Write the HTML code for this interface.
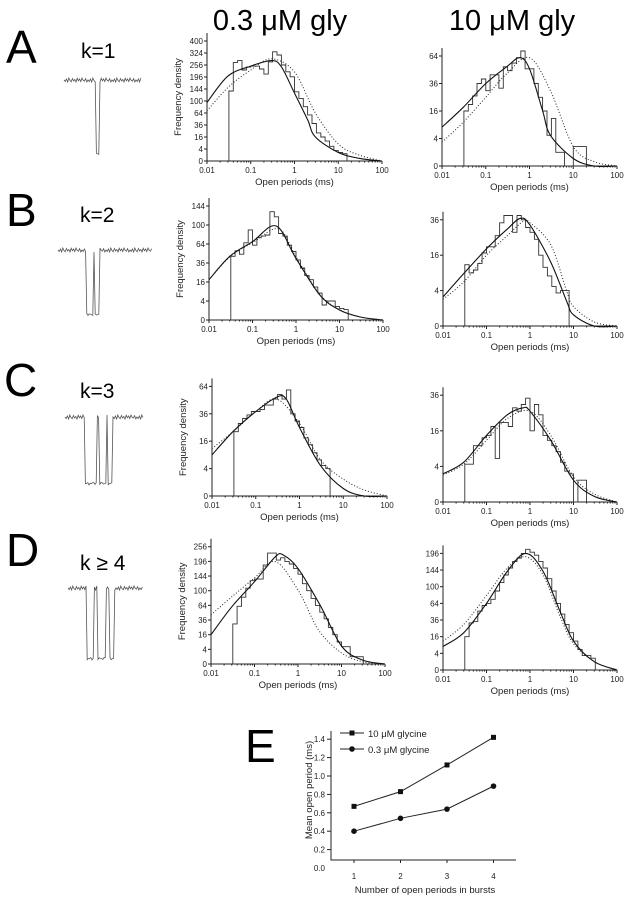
<!DOCTYPE html>
<html><head><meta charset="utf-8"><style>
body{margin:0;background:#fff}
svg{display:block;font-family:"Liberation Sans",sans-serif}
</style></head><body>
<svg id="fig" width="631" height="899" viewBox="0 0 631 899">
<text x="280" y="30" font-size="29" text-anchor="middle">0.3 μM gly</text>
<text x="512" y="30" font-size="29" text-anchor="middle">10 μM gly</text>
<text x="6" y="63" font-size="46">A</text>
<text x="6" y="226" font-size="46">B</text>
<text x="4" y="396" font-size="46">C</text>
<text x="6" y="566" font-size="46">D</text>
<text x="245" y="762" font-size="46">E</text>
<text x="81" y="58" font-size="21">k=1</text>
<text x="80" y="222" font-size="21">k=2</text>
<text x="80" y="398" font-size="21">k=3</text>
<text x="80" y="570" font-size="21">k ≥ 4</text>
<g id="plots"></g>
</svg>
<script>
// ---- histogram data (density values, bins 0.1 decade starting at 0.0316 ms) ----
const ticksA1=[0,4,16,36,64,100,144,196,256,324,400];
const histA1=[136,270,280,230,245,250,250,235,210,273,331,312,256,221,197,133,109,82,59,39,22,16,11,6,3,2,1.5];
const fitA1x=[0.01,0.03,0.1,0.3,0.5,1,2,3,10,30,100];
const fitA1=[95,200,250,280,247,128,47,16,2,0.2,0];
const dotA1x=[0.01,0.03,0.1,0.3,1,3,10,30,100];
const dotA1=[70,150,230,290,220,64,8,1,0];
const ticksA2=[0,4,16,36,64];
const histA2=[16,20,26,36,40,30,44,44,32,52,48,56,62,70,50,50,36,25,16,5,12,1,1,0,0,2,2,2];
const fitA2x=[0.01,0.03,0.1,0.3,0.6,1,2,3,10,30,100];
const fitA2=[8,18,36,52,62,50,16,5,0.3,0,0];
const dotA2x=[0.01,0.03,0.1,0.3,1,3,10,30,100];
const dotA2=[3,10,25,45,62,30,2,0.1,0];
const ticksB1=[0,4,16,36,64,100,144];
const histB1=[45,53,48,66,90,62,75,78,80,130,118,83,78,62,52,40,30,22,18,12,8,2.5,4,4,2,1.5,1.2];
const fitB1x=[0.01,0.03,0.1,0.35,1,3.5,10,30,100];
const fitB1=[18,45,68,98,42,7,1.1,0.1,0];
const dotB1x=[0.01,0.03,0.1,0.4,1,3.5,10,30,100];
const dotB1=[18,44,66,92,44,7.5,1.2,0.1,0];
const ticksB2=[0,4,16,36];
const histB2=[12,9,10,12.5,17,20,20,26,34,39,39,28,39,36,31,28,24,16,11,8,5,3.5,4,4];
const fitB2x=[0.01,0.03,0.1,0.3,0.6,1,3,7,10,30,100];
const fitB2=[2.7,8.8,19,30,37,32.5,13,1.9,0.4,0,0];
const dotB2x=[0.01,0.03,0.1,0.3,0.7,1,3,7,10,30,100];
const dotB2=[2.3,6.2,16,26,35,34,21,3.8,1.2,0.05,0];
const ticksC1=[0,4,16,36,64];
const histC1=[22,28,32,35,38,38,40,44,44,50,55,50,60,36,30,25,18,14,10,7,5,4];
const fitC1x=[0.01,0.03,0.1,0.3,0.5,1,3,10,30,100];
const fitC1=[9,22,38,52,50,25,5,0.3,0,0];
const dotC1x=[0.01,0.03,0.1,0.3,1,3,10,30,100];
const dotC1=[12,22,38,50,28,7,1.5,0.2,0];
const ticksC2=[0,4,16,36];
const histC2=[4.5,4.5,10,10,13,14,18,6,20,20,18,28,26,30,34,16,30,24,14,12,10,8,5,3,2.5,0,1.5,1.5];
const fitC2x=[0.01,0.03,0.1,0.3,0.7,1,3,10,30,100];
const fitC2=[2.5,5,14,24,28,26,12,1.5,0.1,0];
const dotC2x=[0.01,0.03,0.1,0.3,1,3,10,30,100];
const dotC2=[2.3,4.5,12,22,26,14,2,0.2,0];
const ticksD1=[0,4,16,36,64,100,144,196,256];
const histD1=[30,62,83,107,129,134,134,182,229,229,201,210,195,186,170,150,120,100,80,64,50,38,25,16,9,5.6,5.6,1,1,1];
const fitD1x=[0.01,0.03,0.1,0.3,0.46,1,3.2,10,30,100];
const fitD1=[16,61,126,214,221,170,65,6,0.3,0];
const dotD1x=[0.01,0.03,0.1,0.3,1,3,10,30,100];
const dotD1=[45,84,138,195,102,21,2.3,0.1,0];
const ticksD2=[0,4,16,36,64,100,144,196];
const histD2=[16,32,34,50,60,64,72,90,110,130,150,170,180,196,210,200,190,170,150,120,90,64,45,30,20,12,6,3,3,2];
const fitD2x=[0.01,0.03,0.1,0.3,0.8,2,5,10,30,100];
const fitD2=[8,20,64,140,196,140,48,12,1,0];
const dotD2=[12,30,80,150,185,130,40,10,1,0];
const xTickLabels=["0.01","0.1","1","10","100"];
// ---- panel E data ----
const eCats=[1,2,3,4];
const eHigh=[0.67,0.83,1.12,1.42];
const eLow=[0.40,0.54,0.64,0.89];
const eTicks=["0.0","0.2","0.4","0.6","0.8","1.0","1.2","1.4"];

const NS="http://www.w3.org/2000/svg";
const root=document.getElementById('plots');
function mk(tag,attrs,parent){const e=document.createElementNS(NS,tag);for(const k in attrs)e.setAttribute(k,attrs[k]);(parent||root).appendChild(e);return e;}

function smooth(pts){let d="M"+pts[0][0]+","+pts[0][1];
  for(let i=0;i<pts.length-1;i++){const p0=pts[Math.max(0,i-1)],p1=pts[i],p2=pts[i+1],p3=pts[Math.min(pts.length-1,i+2)];
    const c1=[p1[0]+(p2[0]-p0[0])/6,p1[1]+(p2[1]-p0[1])/6],c2=[p2[0]-(p3[0]-p1[0])/6,p2[1]-(p3[1]-p1[1])/6];
    d+=" C"+c1[0].toFixed(1)+","+c1[1].toFixed(1)+" "+c2[0].toFixed(1)+","+c2[1].toFixed(1)+" "+p2[0].toFixed(1)+","+p2[1].toFixed(1);}
  return d;}

function panel(name,x0,x1,y0,unit,ticks,hist,fx,fit,dx,dot,showYTitle){
  const g=mk('g',{});
  
  
  const X=v=>x0+(Math.log10(v)+2)/4*(x1-x0);
  const Y=v=>y0-Math.sqrt(Math.max(0,v))*unit;
  const top=Y(ticks[ticks.length-1])-8;
  const ax=mk('path',{d:`M${x0},${top} L${x0},${y0} L${x1},${y0}`,stroke:'#222','stroke-width':1,fill:'none'},g);
  
  
  ticks.forEach(t=>{const y=Y(t);mk('line',{x1:x0-3,x2:x0,y1:y,y2:y,stroke:'#222'},g);
    const tx=mk('text',{x:x0-4,y:y+3,'font-size':8,'text-anchor':'end',fill:'#222'},g);tx.textContent=t;
    
    });
  for(let dcd=-2;dcd<2;dcd++)for(let m=1;m<10;m++){const x=X(m*Math.pow(10,dcd));mk('line',{x1:x,x2:x,y1:y0,y2:y0+(m==1?3:1.5),stroke:'#222'},g);}
  mk('line',{x1:x1,x2:x1,y1:y0,y2:y0+3,stroke:'#222'},g);
  xTickLabels.forEach((l,i)=>{const tx=mk('text',{x:x0+i*(x1-x0)/4,y:y0+12,'font-size':8,'text-anchor':'middle',fill:'#222'},g);tx.textContent=l;
    
    });
  const xt=mk('text',{x:(x0+x1)/2,y:y0+24,'font-size':9.5,'text-anchor':'middle',fill:'#222'},g);xt.textContent="Open periods (ms)";
  
  
  if(showYTitle){const yt=mk('text',{x:0,y:0,'font-size':9.5,'text-anchor':'middle',fill:'#222',transform:`translate(${x0-26},${(top+y0)/2}) rotate(-90)`},g);yt.textContent="Frequency density";
    
    }
  let d=`M${X(Math.pow(10,-1.5)).toFixed(1)},${y0}`;
  hist.forEach((v,i)=>{const a=X(Math.pow(10,-1.5+i*0.1)),b=X(Math.pow(10,-1.4+i*0.1));d+=` L${a.toFixed(1)},${Y(v).toFixed(1)} L${b.toFixed(1)},${Y(v).toFixed(1)}`;});
  d+=` L${X(Math.pow(10,-1.5+hist.length*0.1)).toFixed(1)},${y0}`;
  const h=mk('path',{d:d,stroke:'#333','stroke-width':0.9,fill:'none'},g);
  
  
  const s=mk('path',{d:smooth(fx.map((x,i)=>[X(x),Y(fit[i])])),stroke:'#111','stroke-width':1.1,fill:'none'},g);
  
  
  const dt=mk('path',{d:smooth(dx.map((x,i)=>[X(x),Y(dot[i])])),stroke:'#222','stroke-width':1,fill:'none','stroke-dasharray':'1 2'},g);
  
  
}
panel('hist-a-low',207,382,161,6,ticksA1,histA1,fitA1x,fitA1,dotA1x,dotA1,true);
panel('hist-a-high',442,617,166,13.75,ticksA2,histA2,fitA2x,fitA2,dotA2x,dotA2,false);
panel('hist-b-low',209,383,320,9.5,ticksB1,histB1,fitB1x,fitB1,dotB1x,dotB1,true);
panel('hist-b-high',443,617,326,17.7,ticksB2,histB2,fitB2x,fitB2,dotB2x,dotB2,false);
panel('hist-c-low',212,387,496,13.7,ticksC1,histC1,fitC1x,fitC1,dotC1x,dotC1,true);
panel('hist-c-high',443,617,502,17.8,ticksC2,histC2,fitC2x,fitC2,dotC2x,dotC2,false);
panel('hist-d-low',211,385,664,7.33,ticksD1,histD1,fitD1x,fitD1,dotD1x,dotD1,true);
panel('hist-d-high',443,617,670,8.33,ticksD2,histD2,fitD2x,fitD2,fitD2x,dotD2,false);

// ---- single-channel traces ----
const noise=[0,1.5,-1,2,-2,0.5,1.8,-1.5,1,-0.5,2,-1.8,0.8,-1,1.6,-2,0.3,1.2,-1.3,2];
function trace(name,x0,x1,base,bottom,segs){
  let d="",k=0;
  for(let x=x0;x<=x1;x+=1.2){
    let open=0;segs.forEach(s=>{if(x>=s[0]&&x<=s[1])open=1;});
    const n=noise[(k++)%noise.length];
    const y=open?bottom-Math.abs(n)*1.2:base+n;
    d+=(d?" L":"M")+x.toFixed(1)+","+y.toFixed(1);
  }
  const p=mk('path',{d:d,stroke:'#555','stroke-width':0.8,fill:'none'});
  
  
}
trace('trace-k1',64,141,80,155,[[96,99]]);
trace('trace-k2',58,152,250,316,[[86,93],[95,100]]);
trace('trace-k3',65,143,417,485,[[85,97],[99,106],[108,112]]);
trace('trace-k4',68,143,588,660,[[87,94],[97,106],[109,114]]);

// ---- panel E ----
(function(){
  const g=mk('g',{});
  
  
  const X=c=>354+(c-1)*46.5, Y=v=>868-v/0.2*18.4;
  mk('path',{d:`M331,731 L331,860 L516,860`,stroke:'#222',fill:'none'},g);
  eTicks.forEach(t=>{const y=Y(parseFloat(t));if(y<862)mk('line',{x1:327,x2:331,y1:y,y2:y,stroke:'#222'},g);
    const tx=mk('text',{x:325,y:y+3,'font-size':8,'text-anchor':'end',fill:'#222'},g);tx.textContent=t;
    
    });
  eCats.forEach(c=>{mk('line',{x1:X(c),x2:X(c),y1:860,y2:863,stroke:'#222'},g);
    const tx=mk('text',{x:X(c),y:879,'font-size':8,'text-anchor':'middle',fill:'#222'},g);tx.textContent=c;
    
    });
  const xt=mk('text',{x:425,y:893,'font-size':9.5,'text-anchor':'middle',fill:'#222'},g);xt.textContent="Number of open periods in bursts";
  
  
  const yt=mk('text',{x:0,y:0,'font-size':9.5,'text-anchor':'middle',fill:'#222',transform:'translate(312,790) rotate(-90)'},g);yt.textContent="Mean open period (ms)";
  
  
  const l1=mk('polyline',{points:eCats.map((c,i)=>X(c)+","+Y(eHigh[i])).join(" "),stroke:'#222',fill:'none'},g);
  
  
  eCats.forEach((c,i)=>{const r=mk('rect',{x:X(c)-2.5,y:Y(eHigh[i])-2.5,width:5,height:5,fill:'#111'},g);
    
    });
  const l2=mk('polyline',{points:eCats.map((c,i)=>X(c)+","+Y(eLow[i])).join(" "),stroke:'#222',fill:'none'},g);
  
  
  eCats.forEach((c,i)=>{const r=mk('circle',{cx:X(c),cy:Y(eLow[i]),r:2.8,fill:'#111'},g);
    
    });
  mk('line',{x1:340,x2:364,y1:733,y2:733,stroke:'#222'},g);
  mk('rect',{x:349.5,y:730.5,width:5,height:5,fill:'#111'},g);
  const t1=mk('text',{x:368,y:737,'font-size':9.5,fill:'#222'},g);t1.textContent="10 μM glycine";
  
  
  mk('line',{x1:340,x2:364,y1:749,y2:749,stroke:'#222'},g);
  mk('circle',{cx:352,cy:749,r:2.8,fill:'#111'},g);
  const t2=mk('text',{x:368,y:753,'font-size':9.5,fill:'#222'},g);t2.textContent="0.3 μM glycine";
  
  
})();
</script>
</body></html>
